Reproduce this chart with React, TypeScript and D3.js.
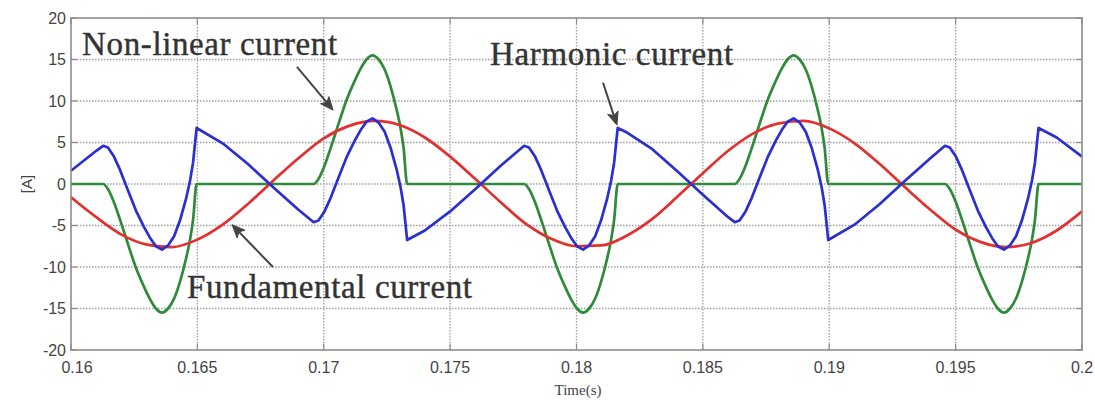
import React from "react";
import * as d3 from "d3";

const W = 1095;
const H = 400;
const M = { left: 71, right: 1082, top: 18, bottom: 350 };

const xTicks = [0.16, 0.165, 0.17, 0.175, 0.18, 0.185, 0.19, 0.195, 0.2];
const xTickLabels = ["0.16", "0.165", "0.17", "0.175", "0.18", "0.185", "0.19", "0.195", "0.2"];
const yTicks = [-20, -15, -10, -5, 0, 5, 10, 15, 20];
const yTickLabels = ["-20", "-15", "-10", "-5", "0", "5", "10", "15", "20"];

// Fundamental current (red)
const fundamentalTime = [
  0.16, 0.161, 0.162, 0.163, 0.164, 0.165, 0.166, 0.167, 0.168, 0.169,
  0.17, 0.171, 0.172, 0.173, 0.174, 0.175, 0.176, 0.177, 0.178, 0.179,
  0.18, 0.181, 0.182, 0.183, 0.184, 0.185, 0.186, 0.187, 0.188, 0.189,
  0.19, 0.191, 0.192, 0.193, 0.194, 0.195, 0.196, 0.197, 0.198, 0.199, 0.2,
];
const fundamentalCurrent = [
  -1.6, -4.0, -6.1, -7.3, -7.6, -6.7, -4.9, -2.4, 0.4, 3.1,
  5.5, 7.0, 7.6, 7.1, 5.6, 3.3, 0.6, -2.2, -4.8, -6.6,
  -7.5, -7.4, -6.2, -4.2, -1.5, 1.3, 4.0, 6.1, 7.3, 7.6,
  6.7, 4.9, 2.4, -0.4, -3.1, -5.5, -7.0, -7.6, -7.1, -5.6, -3.3,
];

// Non-linear current (green)
const nonlinearTime = [
  0.16,
  0.16127, 0.16146, 0.1617, 0.16194, 0.16226, 0.16257, 0.16289, 0.16313, 0.16336, 0.1636, 0.16384, 0.16408, 0.16431, 0.16455, 0.16471, 0.16483, 0.16497,
  0.1696, 0.16979, 0.17003, 0.17027, 0.17059, 0.1709, 0.17122, 0.17146, 0.17169, 0.17193, 0.17217, 0.17241, 0.17264, 0.17288, 0.17304, 0.17316, 0.1733,
  0.17793, 0.17812, 0.17836, 0.1786, 0.17892, 0.17923, 0.17955, 0.17979, 0.18002, 0.18026, 0.1805, 0.18074, 0.18097, 0.18121, 0.18137, 0.18149, 0.18163,
  0.18626, 0.18645, 0.18669, 0.18693, 0.18725, 0.18756, 0.18788, 0.18812, 0.18835, 0.18859, 0.18883, 0.18907, 0.1893, 0.18954, 0.1897, 0.18982, 0.18996,
  0.19458, 0.19477, 0.19501, 0.19525, 0.19557, 0.19588, 0.1962, 0.19644, 0.19667, 0.19691, 0.19715, 0.19739, 0.19762, 0.19786, 0.19802, 0.19814, 0.19828,
  0.2,
];
const nonlinearCurrent = [
  0,
  0, -0.6, -2.2, -4.3, -7.3, -10.1, -12.4, -13.9, -15.0, -15.5, -15.0, -13.8, -11.8, -9.0, -6.7, -4.3, 0,
  0, 0.6, 2.2, 4.3, 7.3, 10.1, 12.4, 13.9, 15.0, 15.5, 15.0, 13.8, 11.8, 9.0, 6.7, 4.3, 0,
  0, -0.6, -2.2, -4.3, -7.3, -10.1, -12.4, -13.9, -15.0, -15.5, -15.0, -13.8, -11.8, -9.0, -6.7, -4.3, 0,
  0, 0.6, 2.2, 4.3, 7.3, 10.1, 12.4, 13.9, 15.0, 15.5, 15.0, 13.8, 11.8, 9.0, 6.7, 4.3, 0,
  0, -0.6, -2.2, -4.3, -7.3, -10.1, -12.4, -13.9, -15.0, -15.5, -15.0, -13.8, -11.8, -9.0, -6.7, -4.3, 0,
  0,
];

// Harmonic current (blue)
const harmonicTime = [
  0.16, 0.161,
  0.16127, 0.16146, 0.1617, 0.16194, 0.16226, 0.16257, 0.16289, 0.16313, 0.16336, 0.1636, 0.16384, 0.16408, 0.16431, 0.16455, 0.16471, 0.16483, 0.16497,
  0.166, 0.167, 0.168, 0.169,
  0.1696, 0.16979, 0.17003, 0.17027, 0.17059, 0.1709, 0.17122, 0.17146, 0.17169, 0.17193, 0.17217, 0.17241, 0.17264, 0.17288, 0.17304, 0.17316, 0.1733,
  0.174, 0.175, 0.176, 0.177,
  0.17793, 0.17812, 0.17836, 0.1786, 0.17892, 0.17923, 0.17955, 0.17979, 0.18002, 0.18026, 0.1805, 0.18074, 0.18097, 0.18121, 0.18137, 0.18149, 0.18163,
  0.182, 0.183, 0.184, 0.185, 0.186,
  0.18626, 0.18645, 0.18669, 0.18693, 0.18725, 0.18756, 0.18788, 0.18812, 0.18835, 0.18859, 0.18883, 0.18907, 0.1893, 0.18954, 0.1897, 0.18982, 0.18996,
  0.191, 0.192, 0.193, 0.194,
  0.19458, 0.19477, 0.19501, 0.19525, 0.19557, 0.19588, 0.1962, 0.19644, 0.19667, 0.19691, 0.19715, 0.19739, 0.19762, 0.19786, 0.19802, 0.19814, 0.19828,
  0.199, 0.2,
];
const harmonicCurrent = [
  1.6, 4.0,
  4.6, 4.4, 3.3, 1.7, -0.8, -3.2, -5.2, -6.5, -7.5, -7.9, -7.4, -6.3, -4.4, -1.8, 0.4, 2.6, 6.75,
  4.9, 2.4, -0.4, -3.1,
  -4.6, -4.4, -3.3, -1.7, 0.8, 3.2, 5.2, 6.5, 7.5, 7.9, 7.4, 6.3, 4.4, 1.8, -0.4, -2.6, -6.75,
  -5.6, -3.3, -0.6, 2.2,
  4.6, 4.4, 3.3, 1.7, -0.8, -3.2, -5.2, -6.5, -7.5, -7.9, -7.4, -6.3, -4.4, -1.8, 0.4, 2.6, 6.75,
  6.2, 4.2, 1.5, -1.3, -4.0,
  -4.6, -4.4, -3.3, -1.7, 0.8, 3.2, 5.2, 6.5, 7.5, 7.9, 7.4, 6.3, 4.4, 1.8, -0.4, -2.6, -6.75,
  -4.9, -2.4, 0.4, 3.1,
  4.6, 4.4, 3.3, 1.7, -0.8, -3.2, -5.2, -6.5, -7.5, -7.9, -7.4, -6.3, -4.4, -1.8, 0.4, 2.6, 6.75,
  5.6, 3.3,
];

// Annotations (text anchor and arrow tail/tip in data coordinates)
const annotationLabels = ["Non-linear current", "Harmonic current", "Fundamental current"];
const annotationTextAt: [number, number][] = [[0.16044, 15.5], [0.17658, 14.3], [0.16459, -13.7]];
const annotationTextWidth = [255, 243, 285];
const arrowTail: [number, number][] = [[0.16894, 14.1], [0.18105, 12.2], [0.16799, -10.0]];
const arrowTip: [number, number][] = [[0.17037, 8.9], [0.1816, 7.1], [0.16637, -4.9]];

const zip = (a: number[], b: number[]): [number, number][] => a.map((v, i) => [v, b[i]]);

export default function App() {
  const x = d3.scaleLinear().domain([0.16, 0.2]).range([M.left, M.right]);
  const y = d3.scaleLinear().domain([-20, 20]).range([M.bottom, M.top]);

  const smooth = d3
    .line<[number, number]>()
    .x((d) => x(d[0]))
    .y((d) => y(d[1]))
    .curve(d3.curveMonotoneX);
  const straight = d3
    .line<[number, number]>()
    .x((d) => x(d[0]))
    .y((d) => y(d[1]))
    .curve(d3.curveLinear);

  const gridColor = "#a0a0a0";
  const axisColor = "#8c8c8c";
  const tickLen = 6;

  return (
    <svg
      width={W}
      height={H}
      style={{ position: "absolute", left: 0, top: 0, background: "#fff", display: "block" }}
    >
      <rect x={0} y={0} width={W} height={H} fill="#fff" />
      {/* grid */}
      {xTicks.slice(1, -1).map((t, i) => (
        <line
          key={"gx" + i}
          x1={x(t)}
          x2={x(t)}
          y1={M.top}
          y2={M.bottom}
          stroke={gridColor}
          strokeWidth={1.3}
          strokeDasharray="1.5,1.5"
        />
      ))}
      {yTicks.slice(1, -1).map((v, i) => (
        <line
          key={"gy" + i}
          x1={M.left}
          x2={M.right}
          y1={y(v)}
          y2={y(v)}
          stroke={gridColor}
          strokeWidth={1.3}
          strokeDasharray="1.5,1.5"
        />
      ))}
      {/* ticks */}
      {xTicks.map((t, i) => (
        <g key={"tx" + i} stroke={axisColor} strokeWidth={1.2}>
          <line x1={x(t)} x2={x(t)} y1={M.bottom} y2={M.bottom - tickLen} />
          <line x1={x(t)} x2={x(t)} y1={M.top} y2={M.top + tickLen} />
        </g>
      ))}
      {yTicks.map((v, i) => (
        <g key={"ty" + i} stroke={axisColor} strokeWidth={1.2}>
          <line x1={M.left} x2={M.left + tickLen} y1={y(v)} y2={y(v)} />
          <line x1={M.right} x2={M.right - tickLen} y1={y(v)} y2={y(v)} />
        </g>
      ))}
      {/* series */}
      <path d={smooth(zip(nonlinearTime, nonlinearCurrent)) || ""} fill="none" stroke="#2f8a3a" strokeWidth={2.7} strokeLinejoin="round" />
      <path d={smooth(zip(fundamentalTime, fundamentalCurrent)) || ""} fill="none" stroke="#e3302e" strokeWidth={2.7} strokeLinejoin="round" />
      <path d={straight(zip(harmonicTime, harmonicCurrent)) || ""} fill="none" stroke="#2b2fd2" strokeWidth={2.7} strokeLinejoin="round" />
      {/* frame */}
      <rect
        x={M.left}
        y={M.top}
        width={M.right - M.left}
        height={M.bottom - M.top}
        fill="none"
        stroke={axisColor}
        strokeWidth={1.6}
      />
      {/* tick labels */}
      {xTicks.map((t, i) => (
        <text
          key={"lx" + i}
          x={x(t) + (i === 0 ? 6 : 0)}
          y={373}
          textAnchor="middle"
          fontFamily="'Liberation Sans', Arial, sans-serif"
          fontSize={16}
          fill="#444"
        >
          {xTickLabels[i]}
        </text>
      ))}
      {yTicks.map((v, i) => (
        <text
          key={"ly" + i}
          x={66}
          y={y(v) + 5.5}
          textAnchor="end"
          fontFamily="'Liberation Sans', Arial, sans-serif"
          fontSize={16}
          fill="#444"
        >
          {yTickLabels[i]}
        </text>
      ))}
      {/* axis labels */}
      <text
        x={578}
        y={395}
        textAnchor="middle"
        fontFamily="'Liberation Serif', 'Times New Roman', serif"
        fontSize={15}
        fill="#444"
      >
        Time(s)
      </text>
      <text
        transform={`translate(32, ${y(0)}) rotate(-90)`}
        textAnchor="middle"
        fontFamily="'Liberation Sans', Arial, sans-serif"
        fontSize={15}
        fill="#444"
      >
        [A]
      </text>
      {/* annotations */}
      {annotationLabels.map((lab, i) => {
        const tx = x(annotationTextAt[i][0]);
        const ty = y(annotationTextAt[i][1]);
        const x1 = x(arrowTail[i][0]);
        const y1 = y(arrowTail[i][1]);
        const x2 = x(arrowTip[i][0]);
        const y2 = y(arrowTip[i][1]);
        const ang = Math.atan2(y2 - y1, x2 - x1);
        const hl = 13;
        const hw = 5.5;
        const bx = x2 - hl * Math.cos(ang);
        const by = y2 - hl * Math.sin(ang);
        const px = -Math.sin(ang);
        const py = Math.cos(ang);
        return (
          <g key={"an" + i}>
            <text
              x={tx}
              y={ty}
              fontFamily="'Liberation Serif', 'Times New Roman', serif"
              fontSize={33}
              fill="#333"
              stroke="#333"
              strokeWidth={0.4}
              textLength={annotationTextWidth[i]}
              lengthAdjust="spacing"
            >
              {lab}
            </text>
            <line x1={x1} y1={y1} x2={bx + 3 * Math.cos(ang)} y2={by + 3 * Math.sin(ang)} stroke="#444" strokeWidth={2} />
            <path
              d={`M${x2},${y2} L${bx + hw * px},${by + hw * py} L${bx + 3 * Math.cos(ang)},${by + 3 * Math.sin(ang)} L${bx - hw * px},${by - hw * py} Z`}
              fill="#444"
              stroke="#444"
              strokeWidth={1}
              strokeLinejoin="round"
            />
          </g>
        );
      })}
    </svg>
  );
}
